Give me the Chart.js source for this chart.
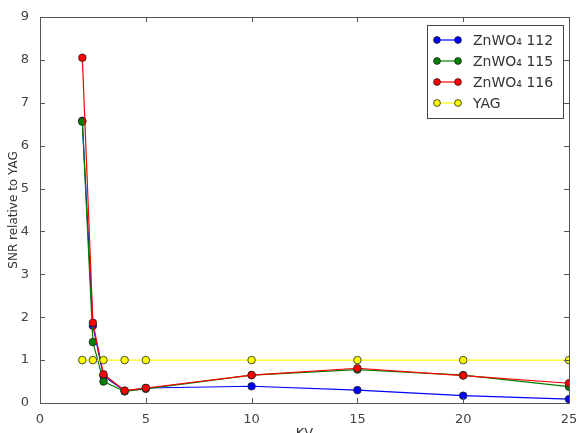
<!DOCTYPE html>
<html><head><meta charset="utf-8">
<script src="https://cdn.jsdelivr.net/npm/chart.js@4/dist/chart.umd.min.js"></script>
<style>html,body{margin:0;padding:0;background:#fff}#w{width:579px;height:433px}</style>
</head><body><div id="w"><canvas id="c" width="579" height="433"></canvas></div>
<script>
const kv = [2, 2.5, 3, 4, 5, 10, 15, 20, 25];
const zn112 = [6.58, 1.8, 0.63, 0.28, 0.35, 0.39, 0.30, 0.17, 0.09];
const zn115 = [6.56, 1.42, 0.50, 0.27, 0.33, 0.65, 0.78, 0.65, 0.38];
const zn116 = [8.05, 1.87, 0.67, 0.29, 0.35, 0.65, 0.81, 0.64, 0.46];
const yag = [1, 1, 1, 1, 1, 1, 1, 1, 1];
const labels = ['ZnWO\u2084 112', 'ZnWO\u2084 115', 'ZnWO\u2084 116', 'YAG'];
const colors = ['#0000ff', '#008000', '#ff0000', '#ffff00'];
const xTicks = [0, 5, 10, 15, 20, 25];
const yTicks = [0, 1, 2, 3, 4, 5, 6, 7, 8, 9];

const FONT = 'DejaVu Sans';
function ds(i, vals) {
  return {
    label: labels[i],
    data: kv.map((x, j) => ({x, y: vals[j]})),
    borderColor: colors[i], backgroundColor: colors[i],
    pointBorderColor: '#222', pointBorderWidth: 0.8,
    borderWidth: 1.2, pointRadius: 3.8, tension: 0,
    order: 4 - i
  };
}
const frame = {
  id: 'frame',
  afterDraw(chart) {
    const {ctx, chartArea: a, scales: {x, y}} = chart;
    ctx.save();
    ctx.strokeStyle = '#555'; ctx.lineWidth = 1;
    ctx.strokeRect(a.left + 0.5, a.top + 0.5, a.right - a.left, a.bottom - a.top);
    ctx.beginPath();
    xTicks.forEach(v => {
      const px = Math.round(x.getPixelForValue(v)) + 0.5;
      ctx.moveTo(px, a.bottom); ctx.lineTo(px, a.bottom - 5);
      ctx.moveTo(px, a.top); ctx.lineTo(px, a.top + 5);
    });
    yTicks.forEach(v => {
      const py = Math.round(y.getPixelForValue(v)) + 0.5;
      ctx.moveTo(a.left, py); ctx.lineTo(a.left + 5, py);
      ctx.moveTo(a.right, py); ctx.lineTo(a.right - 5, py);
    });
    ctx.stroke();
    // legend
    const lx = 427, ly = 25, lw = 136, lh = 93;
    ctx.fillStyle = '#fff';
    ctx.fillRect(lx, ly, lw, lh);
    ctx.strokeStyle = '#444';
    ctx.strokeRect(lx + 0.5, ly + 0.5, lw, lh);
    ctx.font = '14px ' + FONT;
    ctx.textBaseline = 'middle';
    labels.forEach((lab, i) => {
      const cy = ly + 15 + i * 21;
      ctx.strokeStyle = colors[i]; ctx.lineWidth = 1.2;
      ctx.beginPath(); ctx.moveTo(437, cy); ctx.lineTo(458, cy); ctx.stroke();
      [437, 458].forEach(px => {
        ctx.beginPath(); ctx.arc(px, cy, 3.4, 0, Math.PI * 2);
        ctx.fillStyle = colors[i]; ctx.fill();
        ctx.strokeStyle = '#222'; ctx.lineWidth = 0.8; ctx.stroke();
      });
      ctx.fillStyle = '#333';
      ctx.fillText(lab, 473, cy + 1);
    });
    ctx.restore();
  }
};
new Chart(document.getElementById('c'), {
  type: 'line',
  data: {datasets: [ds(0, zn112), ds(1, zn115), ds(2, zn116), ds(3, yag)]},
  options: {
    responsive: false, animation: false,
    layout: {padding: {left: 6, right: 10, top: 17, bottom: 0}},
    plugins: {legend: {display: false}, tooltip: {enabled: false}},
    scales: {
      x: {
        type: 'linear', min: 0, max: 25,
        afterBuildTicks: s => { s.ticks = xTicks.map(v => ({value: v})); },
        afterFit: s => { s.height = 30; },
        grid: {display: false},
        border: {display: false},
        ticks: {font: {family: FONT, size: 13}, color: '#444', padding: 1, maxRotation: 0},
        title: {display: true, text: 'KV', font: {family: FONT, size: 13}, color: '#333', padding: {top: 0, bottom: -8}}
      },
      y: {
        min: 0, max: 9,
        afterBuildTicks: s => { s.ticks = yTicks.map(v => ({value: v})); },
        afterFit: s => { s.width = 34; },
        grid: {display: false},
        border: {display: false},
        ticks: {font: {family: FONT, size: 13}, color: '#444', padding: 3},
        title: {display: true, text: 'SNR relative to YAG', font: {family: FONT, size: 12}, color: '#333', padding: 1}
      }
    }
  },
  plugins: [frame]
});
</script></body></html>
